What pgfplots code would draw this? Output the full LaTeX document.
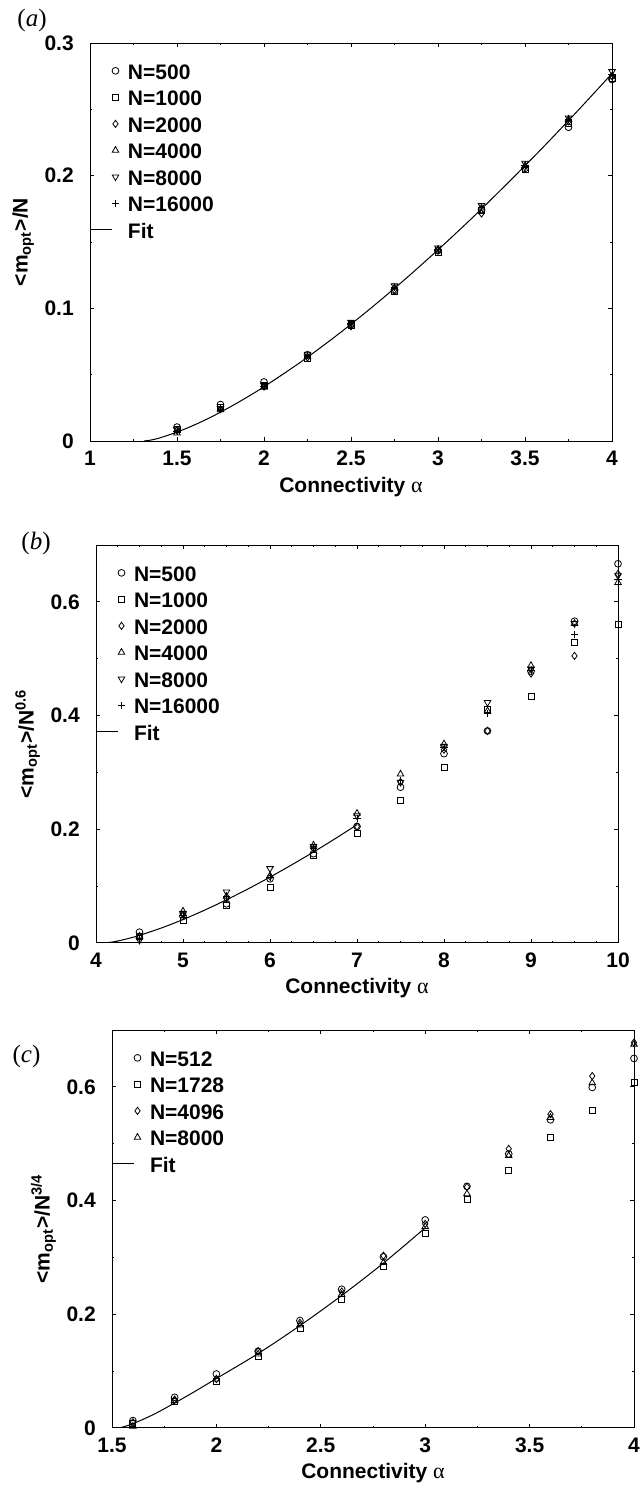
\documentclass[border=0pt]{standalone}
\usepackage{fontspec}
\setmainfont{Liberation Sans}
\newfontfamily\serifrm{Liberation Serif}
\usepackage{pgfplots}
\pgfplotsset{compat=1.18}
\newcommand\lf{\fontsize{10.5}{12.5}\selectfont\bfseries}
\newcommand\al{{\serifrm\mdseries\fontsize{11}{12}\selectfont α}}
\pgfplotsset{
  myaxis/.style={
    scale only axis, width=261pt, height=199pt,
    axis line style={line width=0.5pt},
    every tick/.style={black, line width=0.5pt},
    major tick length=2.2pt, minor tick length=1.2pt,
    tick align=inside,
    ticklabel style={font=\lf},
    /pgf/number format/assume math mode=true,
    xticklabel style={anchor=base, yshift=-12.2pt},
    yticklabel style={anchor=east, xshift=-4.6pt},
    label style={font=\lf},
    xlabel style={at={(axis description cs:0.5,0)}, anchor=base, yshift=-25.5pt},
    ylabel style={at={(axis description cs:-0.094,0.5)}, anchor=south, rotate=0},
    xlabel={Connectivity \al},
    legend style={draw=none, fill=none, at={(axis description cs:0,1)}, anchor=north west,
      yshift=-10.45pt, inner sep=0pt, outer sep=0pt, row sep=5.7pt, column sep=3.75pt,
      font=\lf, nodes={inner sep=0pt, text height=7.55pt, text depth=0pt}},
    legend cell align=left,
  },
  mk/.style={only marks, black, line width=0.4pt, mark size=1.7pt,
    legend image code/.code={\path[draw=none,fill=none] (-12.75pt,0pt) rectangle (2.5pt,0.6pt); \draw[##1] plot coordinates {(0pt,0.3pt)};}},
  fitl/.style={black, line width=0.5pt, mark=none,
    legend image code/.code={\path[draw=none,fill=none] (-12.75pt,0pt) rectangle (2.5pt,0.6pt); \draw[##1] (-12.5pt,0.3pt) -- (-1.75pt,0.3pt);}},
}
\begin{document}
\begin{tikzpicture}
\path[use as bounding box] (0,0) rectangle (320pt,-744.5pt);
\node[font=\serifrm\fontsize{12.5}{14}\selectfont] at (16pt,-10pt) {(\textit{a})};
\node[font=\serifrm\fontsize{12.5}{14}\selectfont] at (18pt,-271.5pt) {(\textit{b})};
\node[font=\serifrm\fontsize{12.5}{14}\selectfont] at (13.25pt,-528pt) {(\textit{c})};
% (a)
\begin{axis}[myaxis, at={(45pt,-21.5pt)}, anchor=north west,
  xmin=1, xmax=4, ymin=0, ymax=0.3,
  xtick={1,1.5,2,2.5,3,3.5,4}, minor x tick num=1,
  ytick={0,0.1,0.2,0.3}, minor y tick num=1,
  ylabel={<m\textsubscript{opt}>/N}]
\addplot[mk, mark=o] coordinates {(1.5,0.0105)(1.75,0.0275)(2,0.0445)(2.25,0.065)(2.5,0.088)(2.75,0.1135)(3,0.1435)(3.25,0.1745)(3.5,0.2055)(3.75,0.2365)(4,0.2725)};
\addlegendentry{N=500}
\addplot[mk, mark=square, mark size=1.5pt] coordinates {(1.5,0.009)(1.75,0.025)(2,0.042)(2.25,0.0625)(2.5,0.0875)(2.75,0.1125)(3,0.142)(3.25,0.1735)(3.5,0.205)(3.75,0.2395)(4,0.2735)};
\addlegendentry{N=1000}
\addplot[mk, mark=diamond, mark size=1.8pt] coordinates {(1.5,0.008)(1.75,0.024)(2,0.041)(2.25,0.063)(2.5,0.0865)(2.75,0.114)(3,0.1435)(3.25,0.1715)(3.5,0.2065)(3.75,0.241)(4,0.275)};
\addlegendentry{N=2000}
\addplot[mk, mark=triangle, mark size=1.9pt] coordinates {(1.5,0.006)(1.75,0.0235)(2,0.0405)(2.25,0.0635)(2.5,0.0875)(2.75,0.1155)(3,0.1445)(3.25,0.1755)(3.5,0.2075)(3.75,0.2425)(4,0.2745)};
\addlegendentry{N=4000}
\addplot[mk, mark=triangle, mark size=1.9pt, mark options={rotate=180}] coordinates {(1.5,0.0085)(1.75,0.0245)(2,0.042)(2.25,0.0655)(2.5,0.0895)(2.75,0.117)(3,0.1455)(3.25,0.1775)(3.5,0.2095)(3.75,0.2435)(4,0.2785)};
\addlegendentry{N=8000}
\addplot[mk, mark=+, mark size=1.8pt] coordinates {(1.5,0.0075)(1.75,0.024)(2,0.0415)(2.25,0.0645)(2.5,0.0885)(2.75,0.116)(3,0.1445)(3.25,0.176)(3.5,0.208)(3.75,0.2425)(4,0.2765)};
\addlegendentry{N=16000}
\addplot[fitl, smooth] coordinates {(1.31,0)(1.35,0.0007)(1.4,0.0023)(1.5,0.0067)(1.6,0.0121)(1.7,0.0183)(1.8,0.0253)(1.9,0.0328)(2.0,0.0409)(2.2,0.0585)(2.4,0.0778)(2.6,0.0986)(2.8,0.1207)(3.0,0.1441)(3.2,0.1686)(3.4,0.1943)(3.6,0.2209)(3.8,0.2485)(4.0,0.2770)};
\addlegendentry{Fit}
\end{axis}
% (b)
\begin{axis}[myaxis, at={(48pt,-272.5pt)}, anchor=north west,
  xmin=4, xmax=10, ymin=0, ymax=0.7,
  xtick={4,5,6,7,8,9,10}, minor x tick num=3,
  ytick={0,0.2,0.4,0.6}, minor y tick num=1,
  ylabel={<m\textsubscript{opt}>/N\textsuperscript{0.6}}]
\addplot[mk, mark=o] coordinates {(4.5,0.019)(5,0.047)(5.5,0.069)(6,0.113)(6.5,0.157)(7,0.205)(7.5,0.274)(8,0.333)(8.5,0.373)(9,0.478)(9.5,0.566)(10,0.667)};
\addlegendentry{N=500}
\addplot[mk, mark=square, mark size=1.5pt] coordinates {(4.5,0.012)(5,0.040)(5.5,0.067)(6,0.098)(6.5,0.154)(7,0.193)(7.5,0.251)(8,0.308)(8.5,0.410)(9,0.434)(9.5,0.529)(10,0.560)};
\addlegendentry{N=1000}
\addplot[mk, mark=diamond, mark size=1.8pt] coordinates {(4.5,0.010)(5,0.050)(5.5,0.078)(6,0.117)(6.5,0.166)(7,0.205)(7.5,0.283)(8,0.340)(8.5,0.373)(9,0.474)(9.5,0.505)(10,0.649)};
\addlegendentry{N=2000}
\addplot[mk, mark=triangle, mark size=1.9pt] coordinates {(4.5,0.012)(5,0.056)(5.5,0.082)(6,0.118)(6.5,0.172)(7,0.228)(7.5,0.297)(8,0.350)(8.5,0.408)(9,0.488)(9.5,0.562)(10,0.634)};
\addlegendentry{N=4000}
\addplot[mk, mark=triangle, mark size=1.9pt, mark options={rotate=180}] coordinates {(4.5,0.005)(5,0.052)(5.5,0.090)(6,0.131)(6.5,0.170)(7,0.224)(7.5,0.283)(8,0.346)(8.5,0.423)(9,0.482)(9.5,0.562)(10,0.646)};
\addlegendentry{N=8000}
\addplot[mk, mark=+, mark size=1.8pt] coordinates {(4.5,0.008)(5,0.048)(5.5,0.082)(6,0.116)(6.5,0.166)(7,0.219)(7.5,0.286)(8,0.344)(8.5,0.403)(9,0.480)(9.5,0.543)(10,0.640)};
\addlegendentry{N=16000}
\addplot[fitl, smooth] coordinates {(4.1,0)(4.2,0.002)(4.3,0.0052)(4.4,0.009)(4.5,0.0134)(4.75,0.0263)(5,0.0412)(5.25,0.0579)(5.5,0.076)(5.75,0.0953)(6,0.1159)(6.25,0.1375)(6.5,0.160)(6.75,0.1836)(7,0.208)};
\addlegendentry{Fit}
\end{axis}
% (c)
\begin{axis}[myaxis, at={(56pt,-515pt)}, anchor=north west,
  xmin=1.5, xmax=4, ymin=0, ymax=0.7,
  xtick={1.5,2,2.5,3,3.5,4}, minor x tick num=1,
  ytick={0,0.2,0.4,0.6}, minor y tick num=1,
  ylabel={<m\textsubscript{opt}>/N\textsuperscript{3/4}}]
\addplot[mk, mark=o] coordinates {(1.6,0.013)(1.8,0.054)(2.0,0.095)(2.2,0.135)(2.4,0.189)(2.6,0.244)(2.8,0.301)(3.0,0.366)(3.2,0.425)(3.4,0.482)(3.6,0.542)(3.8,0.599)(4.0,0.650)};
\addlegendentry{N=512}
\addplot[mk, mark=square, mark size=1.5pt] coordinates {(1.6,0.008)(1.8,0.047)(2.0,0.082)(2.2,0.126)(2.4,0.176)(2.6,0.226)(2.8,0.284)(3.0,0.343)(3.2,0.402)(3.4,0.453)(3.6,0.512)(3.8,0.559)(4.0,0.607)};
\addlegendentry{N=1728}
\addplot[mk, mark=diamond, mark size=1.8pt] coordinates {(1.6,0.010)(1.8,0.050)(2.0,0.086)(2.2,0.135)(2.4,0.185)(2.6,0.240)(2.8,0.303)(3.0,0.359)(3.2,0.424)(3.4,0.491)(3.6,0.552)(3.8,0.619)(4.0,0.678)};
\addlegendentry{N=4096}
\addplot[mk, mark=triangle, mark size=1.9pt] coordinates {(1.6,0.003)(1.8,0.048)(2.0,0.086)(2.2,0.130)(2.4,0.181)(2.6,0.235)(2.8,0.291)(3.0,0.354)(3.2,0.412)(3.4,0.479)(3.6,0.546)(3.8,0.607)(4.0,0.675)};
\addlegendentry{N=8000}
\addplot[fitl, smooth] coordinates {(1.535,0)(1.6,0.0075)(1.7,0.024)(1.8,0.044)(1.9,0.065)(2.0,0.087)(2.2,0.131)(2.4,0.180)(2.6,0.233)(2.8,0.290)(3.0,0.352)};
\addlegendentry{Fit}
\end{axis}
\end{tikzpicture}
\end{document}
